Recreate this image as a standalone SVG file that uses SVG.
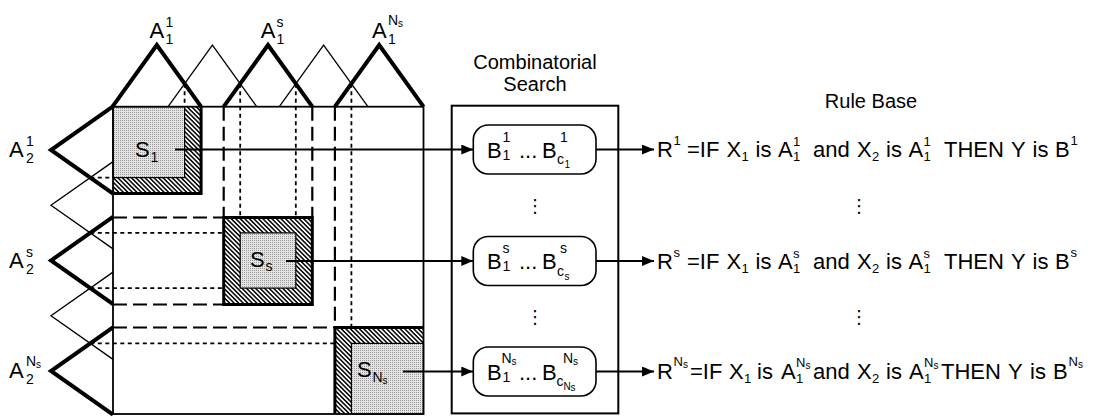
<svg xmlns="http://www.w3.org/2000/svg" width="1099" height="418" viewBox="0 0 1099 418">
<defs>
<style>
text{font-family:"Liberation Sans",Arial,sans-serif;fill:#000}
.big{font-size:22px}
.sm{font-size:14px}
.rs{font-size:13px}
.xs{font-size:10px}
.ttl{font-size:20px}
.thick{fill:none;stroke:#000;stroke-width:4}
.thin{fill:none;stroke:#000;stroke-width:1.3}
.grid{fill:none;stroke:#000;stroke-width:1.8}
.sd{fill:none;stroke:#000;stroke-width:1.8;stroke-dasharray:4 3.5}
.ld{fill:none;stroke:#000;stroke-width:2.2;stroke-dasharray:14 6}
.conn{fill:none;stroke:#000;stroke-width:1.8}
.rbox{fill:#fff;stroke:#000;stroke-width:1.6}
.bord{fill:none;stroke:#000;stroke-width:3}
.hat{fill:url(#hatch)}
.inner{fill:url(#stip);stroke:#000;stroke-width:1.2}
.dots{font-family:"DejaVu Sans",sans-serif;font-size:18px}
</style>
<pattern id="hatch" width="3.2" height="3.2" patternUnits="userSpaceOnUse" patternTransform="rotate(45)"><rect width="3.2" height="3.2" fill="#fff"/><rect width="3.2" height="1.5" fill="#000"/></pattern>
<pattern id="stip" width="2" height="2" patternUnits="userSpaceOnUse"><rect width="2" height="2" fill="#e4e4e4"/><rect width="1" height="1" fill="#9a9a9a"/></pattern>
<marker id="ah" viewBox="0 0 12 10" refX="12" refY="5" markerWidth="12" markerHeight="10" markerUnits="userSpaceOnUse" orient="auto"><path d="M0,0 L12,5 L0,10 z" fill="#000"/></marker>
</defs>
<rect width="1099" height="418" fill="#fff"/>

<!-- S boxes -->
<g id="S1">
<rect x="113" y="106.7" width="88.1" height="86.8" class="hat"/>
<rect x="113" y="106.7" width="71.6" height="70.9" class="inner"/>
<path d="M201.1,106.7 V193.5 H113" class="bord"/>
<text class="big"><tspan x="135" y="157">S</tspan><tspan class="sm" x="150.5" y="162">1</tspan></text>
</g>
<g id="Ss">
<rect x="223.7" y="217.5" width="88.6" height="87" class="hat"/>
<rect x="223.7" y="217.5" width="88.6" height="87" class="bord"/>
<rect x="240.2" y="232.9" width="55.6" height="55.2" class="inner"/>
<text class="big"><tspan x="250" y="267">S</tspan><tspan class="sm" x="265.5" y="271">s</tspan></text>
</g>
<g id="SNs">
<rect x="334.9" y="327.5" width="88.6" height="86.5" class="hat"/>
<rect x="351.4" y="343.4" width="72.1" height="70.6" class="inner"/>
<path d="M334.9,414 V327.5 H423.5" class="bord"/>
<text class="big"><tspan x="357" y="377">S</tspan><tspan class="sm" x="372.5" y="382">N</tspan><tspan class="xs" x="382.5" y="384">s</tspan></text>
</g>

<!-- grid dashed lines -->
<g id="grid">
<path class="sd" d="M184.6,83.7 V106.7 M240.2,83.7 V217.5 M295.8,83.7 V217.5 M351.4,83.7 V327.5"/>
<path class="ld" d="M223.7,106.7 V217.5 M312.3,106.7 V217.5 M334.9,106.7 V327.5"/>
<path class="sd" d="M90.3,177.6 H113 M90.3,232.9 H223.7 M90.3,288.1 H223.7 M90.3,343.4 H334.9"/>
<path class="ld" d="M113,217.5 H223.7 M113,304.5 H223.7 M113,327.5 H334.9"/>
<rect x="113" y="106.7" width="310.5" height="307.3" class="grid"/>
</g>

<!-- membership functions on X1 (top) -->
<g id="mf-top">
<path class="thin" d="M168.1,106.7 L212.4,45 L256.7,106.7 M279.3,106.7 L323.6,45 L367.9,106.7"/>
<path class="thick" d="M112.5,106.7 L156.8,45 L201.1,106.7 M223.7,106.7 L268,45 L312.3,106.7 M334.9,106.7 L379.2,45 L423.5,106.7"/>
<text class="big"><tspan x="149.5" y="38">A</tspan><tspan class="sm" x="165.5" y="27">1</tspan><tspan class="sm" x="165.5" y="44">1</tspan></text>
<text class="big"><tspan x="260.7" y="38">A</tspan><tspan class="sm" x="276.5" y="27">s</tspan><tspan class="sm" x="276.5" y="44">1</tspan></text>
<text class="big"><tspan x="371.9" y="38">A</tspan><tspan class="sm" x="388" y="25">N</tspan><tspan class="xs" x="398" y="27">s</tspan><tspan class="sm" x="388" y="44">1</tspan></text>
</g>

<!-- membership functions on X2 (left) -->
<g id="mf-left">
<path class="thin" d="M113,161.65 L51,205.25 L113,248.85 M113,272.15 L51,315.75 L113,359.35"/>
<path class="thick" d="M113,106.4 L51,150 L113,193.6 M113,216.9 L51,260.5 L113,304.1 M113,327.4 L51,371 L113,414.6"/>
<text class="big"><tspan x="9" y="157">A</tspan><tspan class="sm" x="26" y="146">1</tspan><tspan class="sm" x="26" y="163">2</tspan></text>
<text class="big"><tspan x="9" y="268">A</tspan><tspan class="sm" x="26" y="257">s</tspan><tspan class="sm" x="26" y="274">2</tspan></text>
<text class="big"><tspan x="9" y="378">A</tspan><tspan class="sm" x="26" y="366">N</tspan><tspan class="xs" x="36" y="368">s</tspan><tspan class="sm" x="26" y="384">2</tspan></text>
</g>

<!-- combinatorial search -->
<g id="comb">
<text class="ttl" text-anchor="middle"><tspan x="535" y="69">Combinatorial</tspan><tspan x="535" y="91">Search</tspan></text>
<rect x="451.7" y="105.7" width="166.6" height="307.7" fill="none" stroke="#000" stroke-width="2"/>
<text class="dots" text-anchor="middle" x="535" y="212">⋮</text>
<text class="dots" text-anchor="middle" x="535" y="323">⋮</text>
</g>

<!-- connectors -->
<g id="connectors">
<line class="conn" x1="175" y1="149.5" x2="473.3" y2="149.5" marker-end="url(#ah)"/>
<line class="conn" x1="286" y1="261" x2="473.3" y2="261" marker-end="url(#ah)"/>
<line class="conn" x1="403" y1="371.5" x2="473.3" y2="371.5" marker-end="url(#ah)"/>
<line class="conn" x1="596" y1="149.5" x2="654" y2="149.5" marker-end="url(#ah)"/>
<line class="conn" x1="596" y1="261" x2="654" y2="261" marker-end="url(#ah)"/>
<line class="conn" x1="596" y1="371.5" x2="654" y2="371.5" marker-end="url(#ah)"/>
</g>

<g id="B1">
<rect class="rbox" x="473.3" y="125" width="122.7" height="49" rx="15"/>
<text class="big"><tspan x="487" y="157.5">B</tspan><tspan class="sm" x="502.5" y="141.5">1</tspan><tspan class="sm" x="502.5" y="159.5">1</tspan><tspan x="519" y="157.5">...</tspan><tspan x="542" y="157.5">B</tspan><tspan class="sm" x="560" y="141.5">1</tspan><tspan class="sm" x="557" y="164">c</tspan><tspan class="xs" x="564.5" y="168">1</tspan></text>
</g>
<g id="Bs">
<rect class="rbox" x="473.3" y="236.5" width="122.7" height="49" rx="15"/>
<text class="big"><tspan x="487" y="269">B</tspan><tspan class="sm" x="502.5" y="253">s</tspan><tspan class="sm" x="502.5" y="271">1</tspan><tspan x="519" y="269">...</tspan><tspan x="542" y="269">B</tspan><tspan class="sm" x="560" y="253">s</tspan><tspan class="sm" x="557" y="275.5">c</tspan><tspan class="xs" x="564.5" y="279.5">s</tspan></text>
</g>
<g id="BNs">
<rect class="rbox" x="473.3" y="347" width="122.7" height="49" rx="15"/>
<text class="big"><tspan x="487" y="379.5">B</tspan><tspan class="sm" x="501.5" y="363">N</tspan><tspan class="xs" x="511.5" y="365">s</tspan><tspan class="sm" x="502.5" y="381.5">1</tspan><tspan x="519" y="379.5">...</tspan><tspan x="542" y="379.5">B</tspan><tspan class="sm" x="563" y="363">N</tspan><tspan class="xs" x="573" y="365">s</tspan><tspan class="sm" x="556.5" y="386">c</tspan><tspan class="xs" x="563.5" y="390">N</tspan><tspan class="xs" x="570.5" y="391">s</tspan></text>
</g>

<!-- rule base -->
<g id="rulebase">
<text class="ttl" text-anchor="middle" x="871" y="108">Rule Base</text>
<text class="dots" text-anchor="middle" x="859" y="212">⋮</text>
<text class="dots" text-anchor="middle" x="859" y="323">⋮</text>
</g>
<g id="rule-1">
<text class="big"><tspan x="657" y="157">R</tspan><tspan class="rs" x="673.5" y="145">1</tspan><tspan x="687" y="157">=IF</tspan><tspan x="726.5" y="157">X</tspan><tspan class="rs" x="741.5" y="161">1</tspan><tspan x="755.5" y="157">is</tspan><tspan x="778" y="157">A</tspan><tspan class="rs" x="793" y="146">1</tspan><tspan class="rs" x="793" y="161">1</tspan><tspan x="813" y="157">and</tspan><tspan x="857" y="157">X</tspan><tspan class="rs" x="872" y="161">2</tspan><tspan x="886" y="157">is</tspan><tspan x="908.5" y="157">A</tspan><tspan class="rs" x="923.5" y="146">1</tspan><tspan class="rs" x="923.5" y="161">1</tspan><tspan x="944" y="157">THEN</tspan><tspan x="1011" y="157">Y</tspan><tspan x="1032.5" y="157">is</tspan><tspan x="1055" y="157">B</tspan><tspan class="rs" x="1070.5" y="145">1</tspan></text>
</g>
<g id="rule-s">
<text class="big"><tspan x="657" y="268.5">R</tspan><tspan class="rs" x="673.5" y="256.5">s</tspan><tspan x="687" y="268.5">=IF</tspan><tspan x="726.5" y="268.5">X</tspan><tspan class="rs" x="741.5" y="272.5">1</tspan><tspan x="755.5" y="268.5">is</tspan><tspan x="778" y="268.5">A</tspan><tspan class="rs" x="793" y="257.5">s</tspan><tspan class="rs" x="793" y="272.5">1</tspan><tspan x="813" y="268.5">and</tspan><tspan x="857" y="268.5">X</tspan><tspan class="rs" x="872" y="272.5">2</tspan><tspan x="886" y="268.5">is</tspan><tspan x="908.5" y="268.5">A</tspan><tspan class="rs" x="923.5" y="257.5">s</tspan><tspan class="rs" x="923.5" y="272.5">1</tspan><tspan x="944" y="268.5">THEN</tspan><tspan x="1011" y="268.5">Y</tspan><tspan x="1032.5" y="268.5">is</tspan><tspan x="1055" y="268.5">B</tspan><tspan class="rs" x="1070.5" y="256.5">s</tspan></text>
</g>
<g id="rule-Ns">
<text class="big"><tspan x="657" y="379">R</tspan><tspan class="rs" x="673.5" y="366">N</tspan><tspan class="xs" x="683" y="368">s</tspan><tspan x="690" y="379">=IF</tspan><tspan x="729" y="379">X</tspan><tspan class="rs" x="744" y="383">1</tspan><tspan x="757" y="379">is</tspan><tspan x="781" y="379">A</tspan><tspan class="rs" x="796" y="367">N</tspan><tspan class="xs" x="805.5" y="369">s</tspan><tspan class="rs" x="796" y="383">1</tspan><tspan x="813" y="379">and</tspan><tspan x="857" y="379">X</tspan><tspan class="rs" x="872" y="383">2</tspan><tspan x="886" y="379">is</tspan><tspan x="909" y="379">A</tspan><tspan class="rs" x="924" y="367">N</tspan><tspan class="xs" x="933.5" y="369">s</tspan><tspan class="rs" x="924" y="383">1</tspan><tspan x="941" y="379">THEN</tspan><tspan x="1008" y="379">Y</tspan><tspan x="1030" y="379">is</tspan><tspan x="1053" y="379">B</tspan><tspan class="rs" x="1068.5" y="366">N</tspan><tspan class="xs" x="1078" y="368">s</tspan></text>
</g>
</svg>
